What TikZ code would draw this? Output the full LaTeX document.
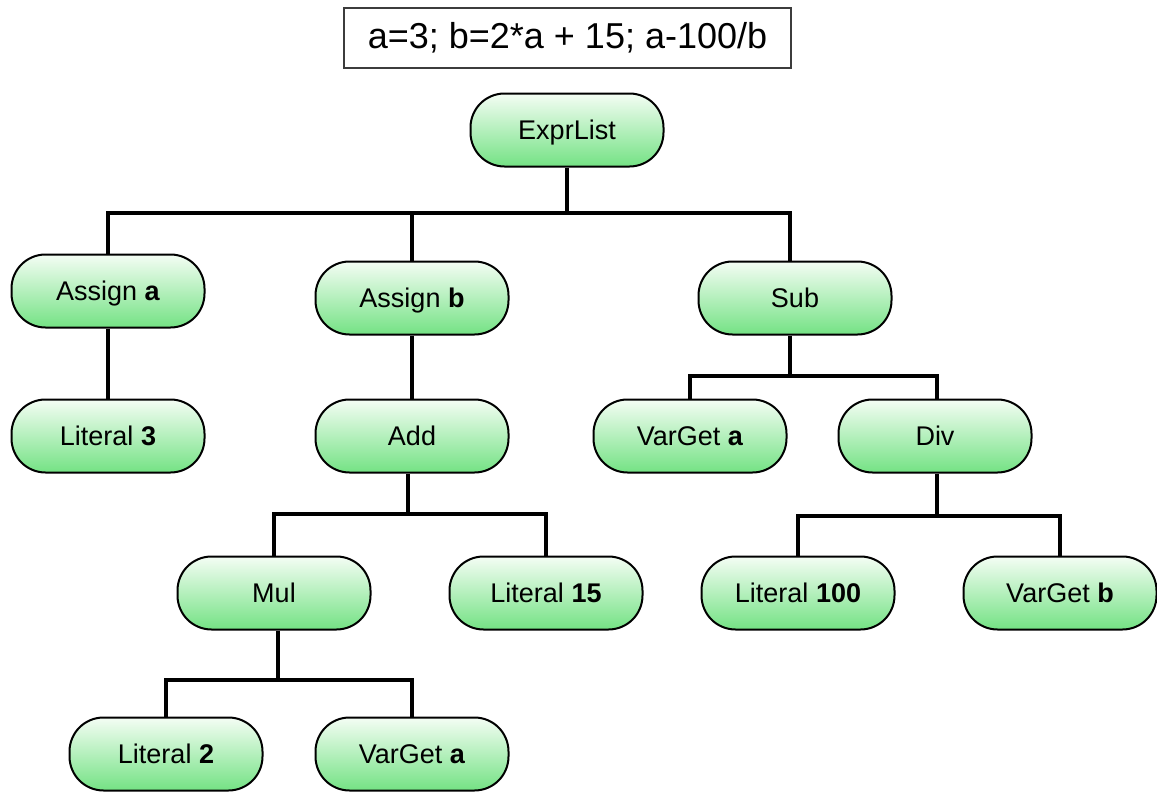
\documentclass[tikz,border=0pt]{standalone}
\usepackage{fontspec}
\setmainfont{Liberation Sans}
\definecolor{gtop}{RGB}{244,253,244}
\definecolor{gbot}{RGB}{116,226,132}
\definecolor{boxline}{RGB}{60,60,60}
\tikzset{
  astnode/.style={draw=black, line width=2pt, rounded corners=34pt,
    minimum width=193pt, minimum height=73pt, inner sep=0pt,
    text height=24pt, text depth=5pt,
    top color=gtop, bottom color=gbot, font=\fontsize{27}{31}\selectfont},
  conn/.style={draw=black, line width=3.6pt},
  codebox/.style={draw=boxline, line width=1.3pt, fill=white,
    minimum width=447pt, minimum height=60pt, inner sep=0pt,
    font=\fontsize{36}{42}\selectfont}
}
\begin{document}
\begin{tikzpicture}[x=1pt,y=-1pt]
\useasboundingbox (0,0) rectangle (1157,795);
\node[codebox] (code) at (567.5,38) {a=3; b=2*a + 15; a-100/b};

\node[astnode] (expr) at (567,130) {ExprList};
\node[astnode] (asa) at (108,291) {Assign \textbf{a}};
\node[astnode] (asb) at (412,298) {Assign \textbf{b}};
\node[astnode] (sub) at (795,298) {Sub};
\node[astnode] (lit3) at (108,436) {Literal \textbf{3}};
\node[astnode] (add) at (412,436) {Add};
\node[astnode] (vga1) at (690,436) {VarGet \textbf{a}};
\node[astnode] (div) at (935,436) {Div};
\node[astnode] (mul) at (274,593) {Mul};
\node[astnode] (lit15) at (546,593) {Literal \textbf{15}};
\node[astnode] (lit100) at (798,593) {Literal \textbf{100}};
\node[astnode] (vgb) at (1060,593) {VarGet \textbf{b}};
\node[astnode] (lit2) at (166,754) {Literal \textbf{2}};
\node[astnode] (vga2) at (412,754) {VarGet \textbf{a}};

% ExprList children
\coordinate (j1) at (567,213);
\coordinate (s1) at (790,0);
\draw[conn] (expr.south) -- (j1);
\draw[conn] (asa.north) |- (j1) -| (s1 |- sub.north);
\draw[conn] (asb.north) -- (asb.north |- j1);
% Assign a
\draw[conn] (asa.south) -- (lit3.north);
% Assign b
\draw[conn] (asb.south) -- (add.north);
% Add children
\coordinate (j2) at (408,514);
\draw[conn] (j2 |- add.south) -- (j2);
\draw[conn] (mul.north) |- (j2) -| (lit15.north);
% Mul children
\coordinate (j3) at (278,680);
\draw[conn] (j3 |- mul.south) -- (j3);
\draw[conn] (lit2.north) |- (j3) -| (vga2.north);
% Sub children
\coordinate (j4) at (790,376);
\draw[conn] (j4 |- sub.south) -- (j4);
\coordinate (d1) at (937,0);
\draw[conn] (vga1.north) |- (j4) -| (d1 |- div.north);
% Div children
\coordinate (j5) at (937,516);
\draw[conn] (j5 |- div.south) -- (j5);
\draw[conn] (lit100.north) |- (j5) -| (vgb.north);
\end{tikzpicture}
\end{document}
